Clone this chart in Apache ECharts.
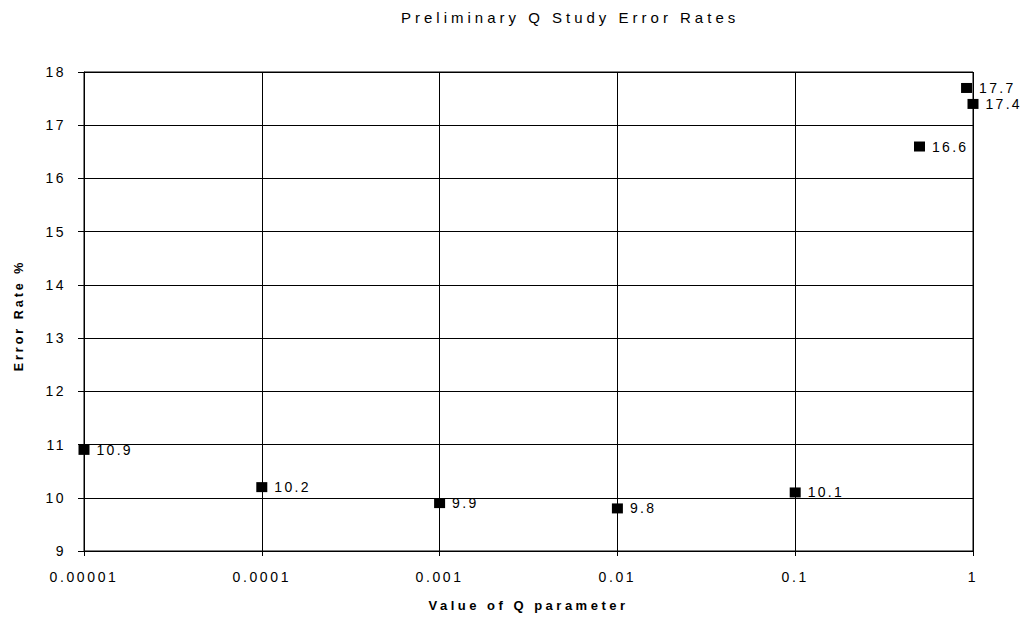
<!DOCTYPE html>
<html><head><meta charset="utf-8">
<script src="https://cdn.jsdelivr.net/npm/echarts@6/dist/echarts.min.js"></script>
<style>html,body{margin:0;padding:0;background:#fff}#c{width:1027px;height:617px}</style>
</head><body><div id="c"></div>
<script>
const qValues = [0.00001, 0.0001, 0.001, 0.01, 0.1, 0.5, 0.92, 1];
const errorRates = [10.9, 10.2, 9.9, 9.8, 10.1, 16.6, 17.7, 17.4];
const xTickLabels = ['0.00001', '0.0001', '0.001', '0.01', '0.1', '1'];
const yTickLabels = ['9', '10', '11', '12', '13', '14', '15', '16', '17', '18'];
const titleText = 'Preliminary Q Study Error Rates';
const xName = 'Value of Q parameter';
const yName = 'Error Rate %';

const FONT = '"Liberation Sans", Arial, sans-serif';
const chart = echarts.init(document.getElementById('c'), null, {renderer: 'svg'});
chart.setOption({
  backgroundColor: '#fff',
  animation: false,
  title: {
    text: titleText, left: 396, top: 5,
    textStyle: {fontFamily: FONT, fontSize: 15, fontWeight: 'normal', color: '#000'}
  },
  grid: {left: 84, right: 54, top: 72, bottom: 65, show: true, borderColor: '#000', borderWidth: 1},
  xAxis: {
    type: 'log', logBase: 10, min: 0.00001, max: 1,
    name: xName, nameLocation: 'middle', nameGap: 48,
    nameTextStyle: {fontFamily: FONT, fontSize: 13, fontWeight: 'bold', color: '#000'},
    axisLine: {show: true, lineStyle: {color: '#000', width: 1}},
    axisTick: {show: true, inside: false, length: 5, lineStyle: {color: '#000'}},
    axisLabel: {
      margin: 19, fontFamily: FONT, fontSize: 14, color: '#000',
      formatter: function (v) {
        const e = Math.round(Math.log10(v));
        return xTickLabels[e + 5] !== undefined ? xTickLabels[e + 5] : '';
      }
    },
    splitLine: {show: true, lineStyle: {color: '#000', width: 1}},
    minorTick: {show: false}
  },
  yAxis: {
    type: 'value', min: 9, max: 18, interval: 1,
    name: yName, nameLocation: 'middle', nameGap: 59, nameRotate: 90,
    nameTextStyle: {fontFamily: FONT, fontSize: 12.5, fontWeight: 'bold', color: '#000', padding: [0, 8, 0, 0]},
    axisLine: {show: true, lineStyle: {color: '#000', width: 1}},
    axisTick: {show: true, inside: false, length: 6, lineStyle: {color: '#000'}},
    axisLabel: {margin: 18, fontFamily: FONT, fontSize: 14, color: '#000'},
    splitLine: {show: true, lineStyle: {color: '#000', width: 1}}
  },
  series: [{
    type: 'scatter',
    data: qValues.map((q, i) => [q, errorRates[i]]),
    symbol: 'rect', symbolSize: [11, 10],
    itemStyle: {color: '#000', opacity: 1},
    label: {
      show: true, position: 'right', distance: 7,
      fontFamily: FONT, fontSize: 14, color: '#000',
      formatter: p => p.value[1].toFixed(1)
    }
  }]
});

function spaceLetters() {
  document.querySelectorAll('#c text').forEach(t => {
    const s = t.textContent;
    let ls = null;
    if (s === titleText) ls = '4px';
    else if (s === xName) ls = '3.5px';
    else if (s === yName) ls = '3px';
    else if (xTickLabels.includes(s)) ls = '2.6px';
    else if (yTickLabels.includes(s)) ls = '2.5px';
    else if (/^\d+\.\d$/.test(s)) ls = '2.3px';
    if (ls) t.style.letterSpacing = ls;
  });
}
spaceLetters();
chart.on('finished', spaceLetters);
setTimeout(spaceLetters, 50);
</script></body></html>
